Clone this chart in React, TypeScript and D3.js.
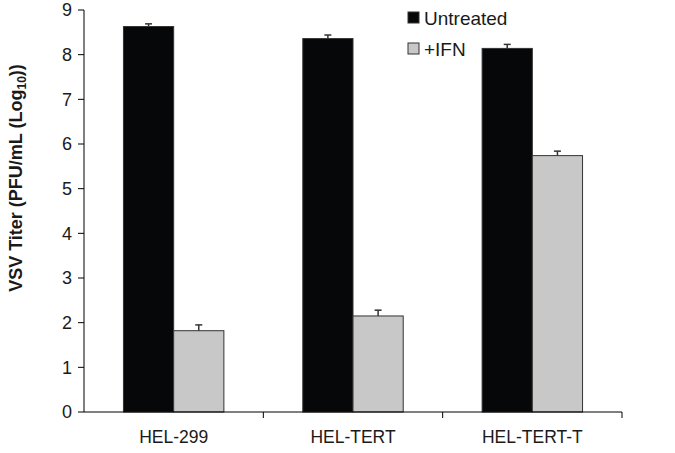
import React from 'react';
import * as d3 from 'd3';

const categories = ['HEL-299', 'HEL-TERT', 'HEL-TERT-T'];
const seriesNames = ['Untreated', '+IFN'];
const untreated = [8.63, 8.36, 8.14];
const untreatedErr = [0.06, 0.08, 0.09];
const ifn = [1.82, 2.15, 5.74];
const ifnErr = [0.13, 0.13, 0.1];
const yTicks = [0, 1, 2, 3, 4, 5, 6, 7, 8, 9];

const colors = ['#060709', '#c8c8c8'];
const font = 'Liberation Sans, Arial, sans-serif';

export default function App() {
  const width = 675;
  const height = 453;
  const margin = { top: 10, right: 53, bottom: 41, left: 84 };

  const x = d3.scaleBand()
    .domain(categories)
    .range([margin.left, width - margin.right])
    .paddingInner(0)
    .paddingOuter(0);

  const y = d3.scaleLinear()
    .domain([0, 9])
    .range([height - margin.bottom, margin.top]);

  const barW = x.bandwidth() * 0.28;
  const series = [
    { name: seriesNames[0], values: untreated, err: untreatedErr, color: colors[0] },
    { name: seriesNames[1], values: ifn, err: ifnErr, color: colors[1] },
  ];
  const y0 = y(0);

  return (
    <svg width={width} height={height} style={{ position: 'absolute', left: 0, top: 0, background: '#fff' }}>
      {/* bars */}
      {series.map((s, si) =>
        categories.map((c, i) => {
          const cx = (x(c) as number) + x.bandwidth() / 2;
          const bx = cx - barW + si * barW;
          const top = y(s.values[i]);
          const errTop = y(s.values[i] + s.err[i]);
          return (
            <g key={s.name + c}>
              <line x1={bx + barW / 2} x2={bx + barW / 2} y1={top} y2={errTop} stroke="#333" strokeWidth={1.5} />
              <line x1={bx + barW / 2 - 3.5} x2={bx + barW / 2 + 3.5} y1={errTop} y2={errTop} stroke="#333" strokeWidth={1.5} />
              <rect x={bx} y={top} width={barW} height={y0 - top} fill={s.color} stroke="#333" strokeWidth={1} />
            </g>
          );
        })
      )}

      {/* y axis */}
      <line x1={margin.left} x2={margin.left} y1={y(9)} y2={y0} stroke="#000" strokeWidth={1} />
      {yTicks.map(t => (
        <g key={t}>
          <line x1={margin.left - 6} x2={margin.left} y1={y(t)} y2={y(t)} stroke="#000" />
          <text x={margin.left - 12} y={y(t)} dy="0.36em" textAnchor="end" fontFamily={font} fontSize={18} fill="#1a1a1a">{t}</text>
        </g>
      ))}

      {/* x axis */}
      <line x1={margin.left} x2={width - margin.right} y1={y0} y2={y0} stroke="#000" strokeWidth={1} />
      {categories.map((c, i) => (
        <g key={c}>
          <line x1={(x(c) as number) + x.bandwidth()} x2={(x(c) as number) + x.bandwidth()} y1={y0} y2={y0 + 6} stroke="#000" />
          <text x={(x(c) as number) + x.bandwidth() / 2} y={y0 + 31} textAnchor="middle" fontFamily={font} fontSize={17.5} fill="#1a1a1a">{c}</text>
        </g>
      ))}

      {/* y title */}
      <text transform={`translate(22,178) rotate(-90)`} textAnchor="middle" fontFamily={font} fontSize={18} fontWeight="bold" fill="#1a1a1a">
        VSV Titer (PFU/mL (Log<tspan fontSize={12} dy={4}>10</tspan><tspan dy={-4}>))</tspan>
      </text>

      {/* legend */}
      {series.map((s, i) => (
        <g key={s.name} transform={`translate(408,${12 + i * 31})`}>
          <rect x={0} y={0} width={11} height={11} fill={s.color} stroke="#333" strokeWidth={1} />
          <text x={16} y={12.5} fontFamily={font} fontSize={19} fill="#1a1a1a">{s.name}</text>
        </g>
      ))}
    </svg>
  );
}
